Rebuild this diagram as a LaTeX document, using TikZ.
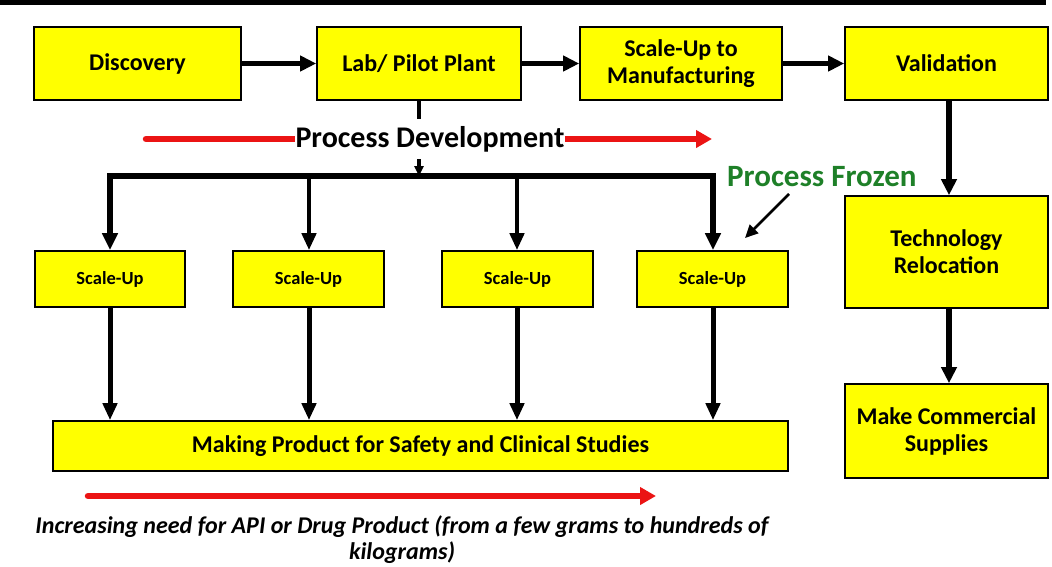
\documentclass[tikz,border=0pt]{standalone}
\usepackage{fontspec}
\setmainfont{Carlito}
\usetikzlibrary{arrows.meta}
\definecolor{boxyellow}{RGB}{255,255,0}
\definecolor{frozengreen}{RGB}{30,128,40}
\definecolor{devred}{RGB}{235,20,20}
\tikzset{
  ybox/.style={draw=black, line width=1.6pt, fill=boxyellow, inner sep=0pt, align=center, font=\fontsize{24}{27}\selectfont\bfseries},
  sbox/.style={ybox, font=\fontsize{18.5}{22}\selectfont\bfseries},
  flow/.style={line width=5.5pt, -{Triangle[length=16pt,width=15pt]}},
  drop/.style={line width=5pt, -{Triangle[length=17pt,width=14pt]}},
  redarrow/.style={devred, line width=6.5pt, line cap=round, -{Triangle[length=16pt,width=17pt]}},
}
\begin{document}
\begin{tikzpicture}[x=1pt,y=-1pt]
\useasboundingbox (0,0) rectangle (1052,566);
\fill[black] (0,0) rectangle (1046,4.5);

% top row
\node[ybox, minimum width=207pt, minimum height=73pt] (disc) at (137.5,63.5) {Discovery};
\node[ybox, minimum width=204pt, minimum height=73pt] (lab) at (419,63.5) {Lab/ Pilot Plant};
\node[ybox, minimum width=202pt, minimum height=73pt] (mfg) at (681,63.5) {Scale-Up to\\Manufacturing};
\node[ybox, minimum width=203pt, minimum height=73pt] (val) at (946.5,63.5) {Validation};

% right column
\node[ybox, minimum width=203pt, minimum height=112pt] (tech) at (946.5,252) {Technology\\Relocation};
\node[ybox, minimum width=203pt, minimum height=94pt] (make) at (946.5,431) {Make Commercial\\Supplies};

% scale-up row
\node[sbox, minimum width=150pt, minimum height=56pt] (s1) at (110,279) {Scale-Up};
\node[sbox, minimum width=151pt, minimum height=56pt] (s2) at (308.5,279) {Scale-Up};
\node[sbox, minimum width=151pt, minimum height=56pt] (s3) at (517.5,279) {Scale-Up};
\node[sbox, minimum width=151pt, minimum height=56pt] (s4) at (712.5,279) {Scale-Up};

% bottom box
\node[ybox, minimum width=735pt, minimum height=50pt] (prod) at (420.5,446) {Making Product for Safety and Clinical Studies};

% top flow arrows
\draw[flow] (disc.east) -- (lab.west);
\draw[flow] (mfg.west -| lab.east) -- (mfg.west);
\draw[flow] (mfg.east) -- (val.west);
\draw[flow, line width=6pt] (val.south -| 949,0) -- (tech.north -| 949,0);
\draw[flow] (tech.south -| 949,0) -- (make.north -| 949,0);

% bus
\coordinate (b1) at (110,176);
\coordinate (b2) at (309,176);
\coordinate (b3) at (517,176);
\coordinate (b4) at (713,176);
\coordinate (bl) at (419,176);
\draw[line width=6pt, line join=miter, {Triangle[length=17pt,width=15pt]}-{Triangle[length=17pt,width=15pt]}]
  (s1.north -| b1) -- (b1) -- (b4) -- (s4.north -| b4);
\draw[line width=4.5pt, -{Triangle[length=17pt,width=14pt]}] (b2) -- (s2.north -| b2);
\draw[line width=4.5pt, -{Triangle[length=17pt,width=14pt]}] (b3) -- (s3.north -| b3);

% lab to bus through process development
\draw[line width=3.5pt, -{Triangle[length=10pt,width=9pt]}] (lab.south) -- (bl);
\draw[redarrow] (146,139) -- (712,139);
\node[fill=white, inner xsep=1pt, inner ysep=0pt, minimum height=40pt, font=\fontsize{30}{34}\selectfont\bfseries] (pd) at (430,139) {Process Development};

% drops to product
\draw[drop] (s1.south -| b1) -- (prod.north -| b1);
\draw[drop] (s2.south -| b2) -- (prod.north -| b2);
\draw[drop] (s3.south -| b3) -- (prod.north -| b3);
\draw[drop] (s4.south -| b4) -- (prod.north -| b4);

% process frozen
\node[text=frozengreen, font=\fontsize{31}{34}\selectfont\bfseries, anchor=west, inner sep=0pt] (pf) at (727,177) {Process Frozen};
\coordinate (pfa) at (789,194);
\coordinate (pfb) at (745,238);
\draw[line width=2.5pt, -{Triangle[length=13pt,width=12pt]}] (pfa) -- (pfb);

% bottom red arrow and caption
\draw[redarrow] (88,496) -- (656,496);
\node[font=\fontsize{24}{26}\selectfont\bfseries\itshape, align=center] (cap) at (402,540) {Increasing need for API or Drug Product (from a few grams to hundreds of\\kilograms)};
\end{tikzpicture}
\end{document}
